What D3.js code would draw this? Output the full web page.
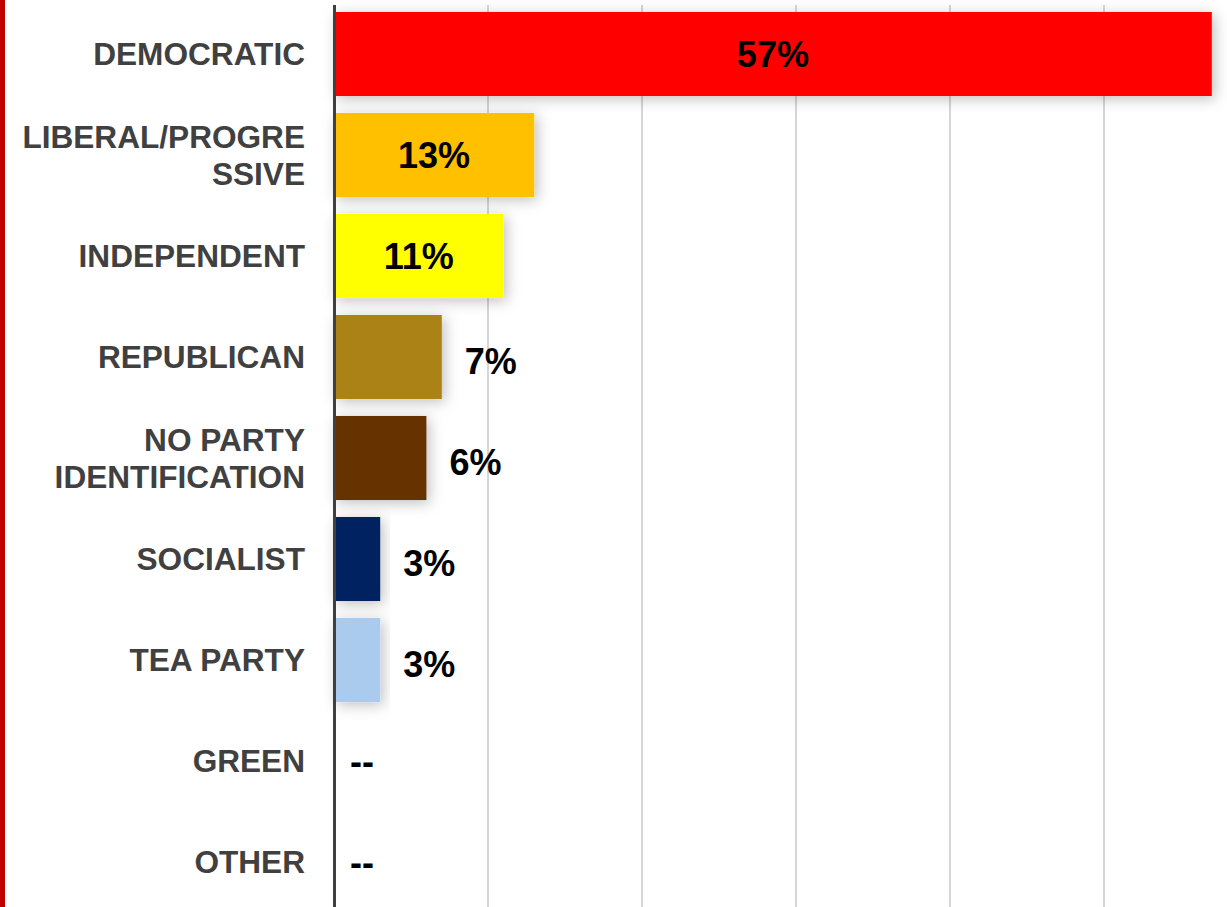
<!DOCTYPE html>
<html><head><meta charset="utf-8">
<script src="https://cdn.jsdelivr.net/npm/d3@7"></script>
<style>html,body{margin:0;padding:0;background:#fff;overflow:hidden}</style>
</head><body>
<svg id="c" width="1227" height="907"></svg>
<script>
const categories = ["DEMOCRATIC","LIBERAL/PROGRESSIVE","INDEPENDENT","REPUBLICAN","NO PARTY IDENTIFICATION","SOCIALIST","TEA PARTY","GREEN","OTHER"];
const labelLines = [["DEMOCRATIC"],["LIBERAL/PROGRE","SSIVE"],["INDEPENDENT"],["REPUBLICAN"],["NO PARTY","IDENTIFICATION"],["SOCIALIST"],["TEA PARTY"],["GREEN"],["OTHER"]];
const values = [57,13,11,7,6,3,3,null,null];
const colors = ["#ff0000","#ffc000","#ffff00","#ab8219","#663300","#002060","#abcbee","#999","#999"];
const gridTicks = [10,20,30,40,50];

const svg = d3.select("#c");
const W = 1227, H = 907;
const x = d3.scaleLinear().domain([0,60]).range([334,1258]);
const y = d3.scaleBand().domain(categories).range([3.5,912.5]).paddingInner(0.168).paddingOuter(0.084);

const defs = svg.append("defs");
const f = defs.append("filter").attr("id","sh").attr("x","-20%").attr("y","-50%").attr("width","140%").attr("height","200%");
f.append("feDropShadow").attr("dx",3).attr("dy",3).attr("stdDeviation",7).attr("flood-color","#000").attr("flood-opacity",0.25);

// left red strip
svg.append("rect").attr("x",0).attr("y",0).attr("width",5).attr("height",H).attr("fill","#c00000");

// gridlines
svg.append("g").selectAll("line").data(gridTicks).join("line")
  .attr("x1",d=>x(d)).attr("x2",d=>x(d)).attr("y1",5).attr("y2",H)
  .attr("stroke","#c8c8c8").attr("stroke-width",1.5);

// bars
svg.append("g").selectAll("rect").data(categories.map((c,i)=>({c,v:values[i],i})).filter(d=>d.v!=null)).join("rect")
  .attr("x",x(0)).attr("y",d=>y(d.c)).attr("width",d=>x(d.v)-x(0)).attr("height",y.bandwidth())
  .attr("fill",d=>colors[d.i]).attr("filter","url(#sh)");

// axis line
svg.append("line").attr("x1",334.5).attr("x2",334.5).attr("y1",5).attr("y2",H).attr("stroke","#404040").attr("stroke-width",3);

// category labels
const lg = svg.append("g").attr("font-family","'Liberation Sans', Arial, sans-serif").attr("font-weight","bold").attr("font-size",31.6).attr("fill","#404040").attr("text-anchor","end");
categories.forEach((c,i)=>{
  const cy = y(c)+y.bandwidth()/2;
  const lines = labelLines[i];
  const t = lg.append("text").attr("x",305);
  lines.forEach((ln,j)=>{
    const off = (j-(lines.length-1)/2)*37;
    t.append("tspan").attr("x",305).attr("y",cy+off+11).text(ln);
  });
});

// value labels
const vg = svg.append("g").attr("font-family","'Liberation Sans', Arial, sans-serif").attr("font-weight","bold").attr("font-size",36).attr("fill","#000");
categories.forEach((c,i)=>{
  const v = values[i];
  const cy = y(c)+y.bandwidth()/2;
  if (v==null){
    vg.append("text").attr("x",x(0)+16).attr("y",cy+13).text("--");
  } else if (v>=10){
    vg.append("text").attr("x",(x(0)+x(v))/2).attr("y",cy+13).attr("text-anchor","middle").text(v+"%");
  } else {
    vg.append("text").attr("x",x(v)+23).attr("y",cy+17).text(v+"%");
  }
});
</script>
</body></html>
